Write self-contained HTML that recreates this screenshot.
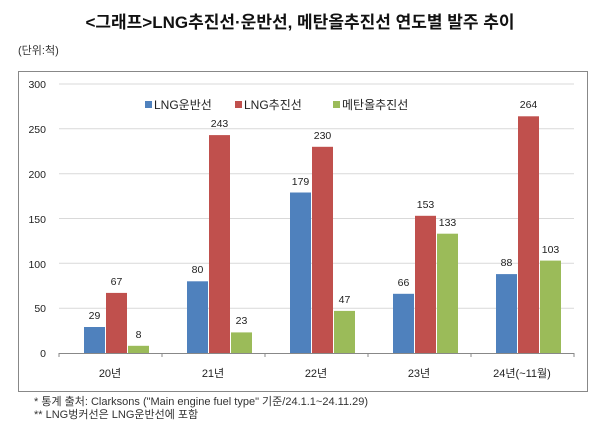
<!DOCTYPE html>
<html><head><meta charset="utf-8"><style>
body{margin:0;width:600px;height:428px;background:#fff;overflow:hidden}
svg text{font-family:"Liberation Sans","Noto Sans CJK KR",sans-serif}
</style></head><body>
<svg width="600" height="428" xmlns="http://www.w3.org/2000/svg">
<text x="300" y="28" text-anchor="middle" font-size="17" font-weight="bold" fill="#111">&lt;그래프&gt;LNG추진선·운반선, 메탄올추진선 연도별 발주 추이</text>
<text x="18" y="54" font-size="11" fill="#333">(단위:척)</text>
<rect x="18.5" y="71.5" width="569" height="320" fill="#fff" stroke="#888"/>
<g stroke="#d9d9d9" stroke-width="1">
<line x1="59" x2="574" y1="84" y2="84"/><line x1="59" x2="574" y1="128.8" y2="128.8"/>
<line x1="59" x2="574" y1="173.7" y2="173.7"/><line x1="59" x2="574" y1="218.5" y2="218.5"/>
<line x1="59" x2="574" y1="263.3" y2="263.3"/><line x1="59" x2="574" y1="308.2" y2="308.2"/>
</g>
<g font-size="10.5" fill="#222" text-anchor="end">
<text x="46" y="88">300</text><text x="46" y="133">250</text><text x="46" y="178">200</text>
<text x="46" y="223">150</text><text x="46" y="268">100</text><text x="46" y="312">50</text><text x="46" y="357">0</text>
</g>
<g>
<rect x="84" y="327" width="21" height="26" fill="#4f81bd"/>
<rect x="106" y="292.9" width="21" height="60.1" fill="#c0504d"/>
<rect x="128" y="345.8" width="21" height="7.2" fill="#9bbb59"/>
<rect x="187" y="281.3" width="21" height="71.7" fill="#4f81bd"/>
<rect x="209" y="135.1" width="21" height="217.9" fill="#c0504d"/>
<rect x="231" y="332.4" width="21" height="20.6" fill="#9bbb59"/>
<rect x="290" y="192.5" width="21" height="160.5" fill="#4f81bd"/>
<rect x="312" y="146.8" width="21" height="206.2" fill="#c0504d"/>
<rect x="334" y="310.9" width="21" height="42.1" fill="#9bbb59"/>
<rect x="393" y="293.8" width="21" height="59.2" fill="#4f81bd"/>
<rect x="415" y="215.8" width="21" height="137.2" fill="#c0504d"/>
<rect x="437" y="233.7" width="21" height="119.3" fill="#9bbb59"/>
<rect x="496" y="274.1" width="21" height="78.9" fill="#4f81bd"/>
<rect x="518" y="116.3" width="21" height="236.7" fill="#c0504d"/>
<rect x="540" y="260.6" width="21" height="92.4" fill="#9bbb59"/>
</g>
<g font-size="10.5" fill="#222" text-anchor="middle">
<text x="94.5" y="319">29</text><text x="116.5" y="285">67</text><text x="138.5" y="338">8</text>
<text x="197.5" y="273">80</text><text x="219.5" y="127">243</text><text x="241.5" y="324">23</text>
<text x="300.5" y="185">179</text><text x="322.5" y="139">230</text><text x="344.5" y="303">47</text>
<text x="403.5" y="286">66</text><text x="425.5" y="208">153</text><text x="447.5" y="226">133</text>
<text x="506.5" y="266">88</text><text x="528.5" y="108">264</text><text x="550.5" y="253">103</text>
</g>
<line x1="59" x2="574" y1="353.5" y2="353.5" stroke="#888"/>
<g stroke="#888"><line x1="59" x2="59" y1="353" y2="357"/><line x1="162" x2="162" y1="353" y2="357"/><line x1="265" x2="265" y1="353" y2="357"/><line x1="368" x2="368" y1="353" y2="357"/><line x1="471" x2="471" y1="353" y2="357"/><line x1="574" x2="574" y1="353" y2="357"/></g>
<g font-size="11" fill="#222" text-anchor="middle">
<text x="110" y="377">20년</text><text x="213" y="377">21년</text><text x="316" y="377">22년</text><text x="419" y="377">23년</text><text x="522" y="377">24년(~11월)</text>
</g>
<g font-size="12" fill="#222">
<rect x="145" y="101" width="7" height="7" fill="#4f81bd"/><text x="154" y="109">LNG운반선</text>
<rect x="235" y="101" width="7" height="7" fill="#c0504d"/><text x="244" y="109">LNG추진선</text>
<rect x="333" y="101" width="7" height="7" fill="#9bbb59"/><text x="342" y="109">메탄올추진선</text>
</g>
<g font-size="11" fill="#333">
<text x="34" y="405">*  통계 출처: Clarksons ("Main engine fuel type" 기준/24.1.1~24.11.29)</text>
<text x="34" y="418">** LNG벙커선은 LNG운반선에 포함</text>
</g>
</svg>
</body></html>
